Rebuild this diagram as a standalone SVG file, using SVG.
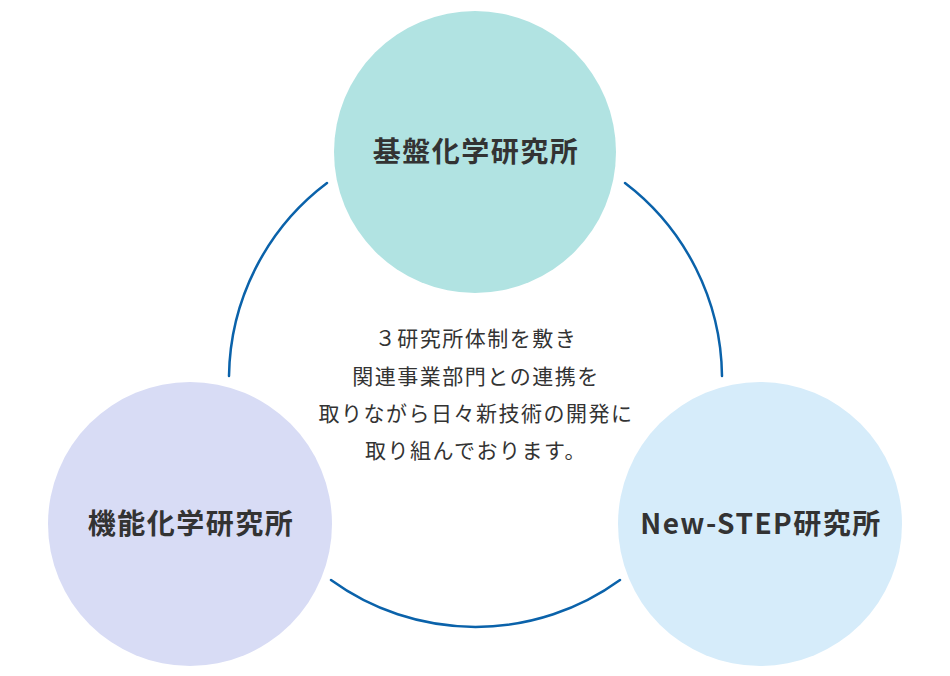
<svg xmlns="http://www.w3.org/2000/svg" width="950" height="676" viewBox="0 0 950 676">
<style>
.title{font-family:"Noto Sans CJK JP","Noto Sans",sans-serif;font-weight:bold;font-size:28px;fill:#333;text-anchor:middle;letter-spacing:1.5px}
.body{font-family:"Noto Sans CJK JP","Noto Sans",sans-serif;font-size:21px;fill:#333;text-anchor:middle;letter-spacing:1.5px}
.arc{fill:none;stroke:#0a62aa;stroke-width:2.5;stroke-linecap:round}
</style>
<rect width="950" height="676" fill="#fff"/>
<g id="connectors">
<path class="arc" d="M327,183 A246,246 0 0 0 229,376"/>
<path class="arc" d="M625,183 A246,246 0 0 1 722,376"/>
<path class="arc" d="M331,580 A246,246 0 0 0 620,580"/>
</g>
<g id="node-kiban">
<circle cx="475" cy="152" r="141" fill="#b1e3e2"/>
<text class="title" x="476" y="162">基盤化学研究所</text>
</g>
<g id="node-kinou">
<circle cx="190" cy="524" r="142" fill="#d8dcf5"/>
<text class="title" x="191" y="534">機能化学研究所</text>
</g>
<g id="node-newstep">
<circle cx="760" cy="524" r="142" fill="#d6ecfa"/>
<text class="title" x="761" y="534">New-STEP研究所</text>
</g>
<g id="center-text">
<text class="body" x="476" y="346">３研究所体制を敷き</text>
<text class="body" x="476" y="384">関連事業部門との連携を</text>
<text class="body" x="476" y="421">取りながら日々新技術の開発に</text>
<text class="body" x="476" y="458">取り組んでおります。</text>
</g>
</svg>
